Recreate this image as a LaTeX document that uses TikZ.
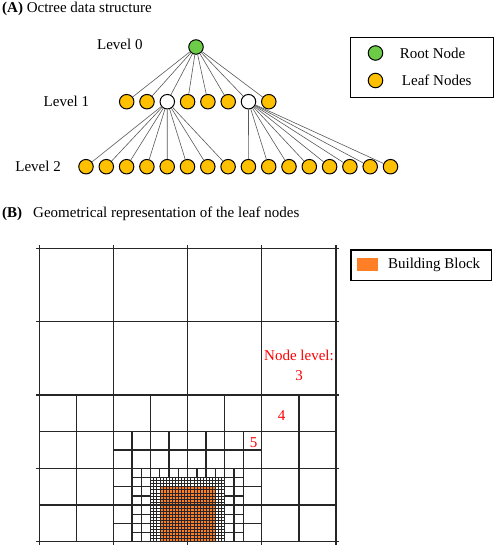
\documentclass[tikz,border=0pt]{standalone}
\usepackage{fontspec}
\setmainfont{Liberation Serif}
\usetikzlibrary{positioning}
\definecolor{rootgreen}{RGB}{108,204,72}
\definecolor{leafgold}{RGB}{255,192,0}
\definecolor{blockorange}{RGB}{255,127,39}

\begin{document}
\begin{tikzpicture}[
x=1pt, y=-1pt,
font=\fontsize{15}{19.3}\selectfont,
tnode/.style={circle, draw, line width=1pt, minimum size=14.5pt, inner sep=0pt},
leaf/.style={tnode, fill=leafgold},
inner/.style={tnode, fill=white},
rootnode/.style={tnode, fill=rootgreen},
edge/.style={draw=black!65, line width=0.6pt},
lbl/.style={inner sep=0pt, anchor=east},
legendbox/.style={draw, line width=1.2pt, inner sep=0pt},
gridline/.style={line width=1.35pt, draw=black!85},
fineline/.style={line width=0.6pt, draw=black!85},
lvl/.style={text=red, inner sep=0pt}
]
\useasboundingbox (0,0) rectangle (498,547);

% (A) octree
\node[anchor=base west, inner sep=0pt] (titleA) at (2,12.5) {\textbf{(A)} Octree data structure};

\node[rootnode] (r) at (196,47) {};
\foreach \i/\s in {1/leaf,2/leaf,3/inner,4/leaf,5/leaf,6/leaf,7/inner,8/leaf}
  \node[\s] (a\i) at ({106.4+20.3*\i},101.7) {};
\foreach \j in {1,...,16}
  \node[leaf] (b\j) at ({65.7+20.3*\j},166.7) {};

\foreach \i in {1,...,8} \draw[edge] (r) -- (a\i);
\foreach \j in {1,...,8} \draw[edge] (a3) -- (b\j);
\foreach \j in {9,...,16} \draw[edge] (a7) -- (b\j);

\node[lbl] (lv0) at (142.7,44) {Level 0};
\node[lbl] (lv1) at (89.3,101) {Level 1};
\node[lbl] (lv2) at (61,166.7) {Level 2};

% legend A
\node[legendbox, minimum width=142.6pt, minimum height=60.4pt] (legA) at (422,67.5) {};
\node[rootnode] (keyroot) at (375.5,53) {};
\node[leaf] (keyleaf) at (375.5,80.5) {};
\node[inner sep=0pt, right=16.5pt of keyroot] (txtroot) {Root Node};
\node[inner sep=0pt, right=18.5pt of keyleaf] (txtleaf) {Leaf Nodes};

% (B) leaf node geometry
\node[anchor=base west, inner sep=0pt] (titleB) at (2,217) {\textbf{(B)}\hspace{11pt}Geometrical representation of the leaf nodes};

\node[legendbox, minimum width=140.7pt, minimum height=30.7pt] (legB) at (421.3,265.3) {};
\node[fill=blockorange, minimum width=21pt, minimum height=12.7pt, inner sep=0pt] (keyblock) at (367.8,264.7) {};
\node[inner sep=0pt, right=9.4pt of keyblock] (txtblock) {Building Block};

\begin{scope}[shift={(39.3,248.3)}, x=18.54pt, y=-18.34pt]
  \fill[blockorange] (6.5,13) rectangle (9.5,16);
  % finest cells
  \foreach \k in {1,...,23} \draw[fineline] ({6+\k/6},12.5) -- ({6+\k/6},16);
  \foreach \k in {1,...,20} \draw[fineline] (6,{12.5+\k/6}) -- (10,{12.5+\k/6});
  % level 6
  \foreach \x in {5.5,10.5} \draw[gridline] (\x,12) -- (\x,16);
  \foreach \x in {6.5,7,...,9.5} \draw[gridline] (\x,12) -- (\x,12.5);
  \foreach \y in {12.5,13,...,15.5} {
    \draw[gridline] (5,\y) -- (6,\y);
    \draw[gridline] (10,\y) -- (11,\y);
  }
  \draw[gridline] (6,12.5) -- (10,12.5);
  % level 5
  \foreach \x in {7,9} \draw[gridline] (\x,10) -- (\x,12);
  \foreach \x in {5,11} \draw[gridline] (\x,10) -- (\x,16);
  \draw[gridline] (4,11) -- (12,11);
  \foreach \y in {13,15} {
    \draw[gridline] (4,\y) -- (5,\y);
    \draw[gridline] (11,\y) -- (12,\y);
  }
  % level 4
  \foreach \x in {2,6,10,14} \draw[gridline] (\x,8) -- (\x,16);
  \foreach \y in {10,14} \draw[gridline] (0,\y) -- (16,\y);
  % level 3
  \foreach \v in {0,4,8,12,16} {
    \draw[gridline] (\v,-0.17) -- (\v,16.17);
    \draw[gridline] (-0.17,\v) -- (16.17,\v);
  }
\end{scope}

\node[lvl, align=center] (lvl3) at (299,365.5) {Node level:\\3};
\node[lvl] (lvl4) at (281.7,416) {4};
\node[lvl] (lvl5) at (253.5,443) {5};
\end{tikzpicture}
\end{document}
